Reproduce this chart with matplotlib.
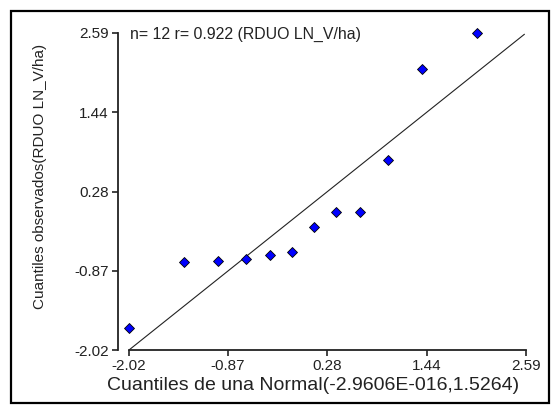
import numpy as np
import matplotlib.pyplot as plt
from matplotlib.patches import Rectangle

# theoretical normal quantiles (x) and observed quantiles (y)
x_q = [-2.02, -1.38, -0.99, -0.66, -0.38, -0.13, 0.13, 0.38, 0.66, 0.99, 1.38, 2.02]
y_q = [-1.70, -0.74, -0.72, -0.70, -0.64, -0.60, -0.23, -0.02, -0.02, 0.74, 2.07, 2.59]
ticks = [-2.02, -0.87, 0.28, 1.44, 2.59]
ref_line = [-2.02, 2.57]

plt.rcParams['font.family'] = ['Liberation Sans', 'DejaVu Sans']

W, H = 551, 405
fig = plt.figure(figsize=(W / 100, H / 100), dpi=100)
ax = fig.add_axes([129 / W, 1 - 350 / H, (526 - 129) / W, (350 - 33) / H])

# outer frame
fig.patches.append(Rectangle((11 / W, 2 / H), (549 - 11) / W, (394 - 2) / H,
                             transform=fig.transFigure, fill=False,
                             edgecolor='black', linewidth=1.6))

ax.plot(ref_line, ref_line, color='#222222', linewidth=0.8)
ax.plot(x_q, y_q, 'D', color='#0000ff', markeredgecolor='black',
        markeredgewidth=0.6, markersize=5.5, clip_on=False)

ax.set_xlim(-2.02, 2.59)
ax.set_ylim(-2.02, 2.59)
ax.set_xticks(ticks)
ax.set_yticks(ticks)
ax.set_xticklabels(['%.2f' % t for t in ticks])
ax.set_yticklabels(['%.2f' % t for t in ticks])

for s in ['top', 'right']:
    ax.spines[s].set_visible(False)
ax.spines['left'].set_position(('outward', 11 * 0.72))
ax.spines['left'].set_bounds(-2.02, 2.59)
ax.spines['bottom'].set_bounds(-2.02, 2.59)
for s in ['left', 'bottom']:
    ax.spines[s].set_linewidth(1.3)
    ax.spines[s].set_color('#222222')
ax.tick_params(direction='out', length=4.5, width=1.2, color='#222222',
               labelsize=11, labelcolor='#222222', pad=2)

fig.text(130 / W, 1 - 34 / H, 'n= 12 r= 0.922 (RDUO LN_V/ha)', fontsize=11.4,
         va='center', ha='left', color='#222222')
fig.text(313 / W, 1 - 385 / H, 'Cuantiles de una Normal(-2.9606E-016,1.5264)',
         fontsize=14, va='center', ha='center', color='#222222')
fig.text(40 / W, 1 - 176 / H, 'Cuantiles observados(RDUO LN_V/ha)',
         fontsize=11, va='center', ha='center', rotation=90, color='#222222')

fig.savefig('out.png', dpi=100)
